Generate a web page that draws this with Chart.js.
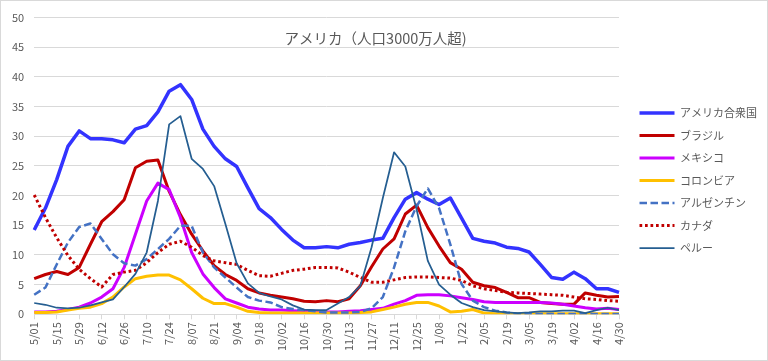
<!DOCTYPE html>
<html lang="ja">
<head>
<meta charset="utf-8">
<title>アメリカ（人口3000万人超)</title>
<script src="https://cdn.jsdelivr.net/npm/chart.js@4.4.1/dist/chart.umd.min.js"></script>
<style>
  html, body { margin: 0; padding: 0; background: #fff; }
  #wrap { width: 768px; height: 361px; box-sizing: border-box; border: 1px solid #d9d9d9; }
  canvas { display: block; }
</style>
</head>
<body>
<div id="wrap"><canvas id="chart" width="766" height="359"></canvas></div>
<script>
// Weekly dates (every other one is shown on the axis)
const weeks = [
  '5/01', '5/08', '5/15', '5/22', '5/29', '6/05', '6/12', '6/19', '6/26',
  '7/03', '7/10', '7/17', '7/24', '7/31', '8/07', '8/14', '8/21', '8/28',
  '9/04', '9/11', '9/18', '9/25', '10/02', '10/09', '10/16', '10/23', '10/30',
  '11/06', '11/13', '11/20', '11/27', '12/04', '12/11', '12/18', '12/25',
  '1/01', '1/08', '1/15', '1/22', '1/29', '2/05', '2/12', '2/19', '2/26',
  '3/05', '3/12', '3/19', '3/26', '4/02', '4/09', '4/16', '4/23', '4/30',
];

// Series values
const usa = [14.2, 17.9, 22.7, 28.3, 30.9, 29.6, 29.6, 29.4, 28.9, 31.2, 31.8, 34.1, 37.6, 38.7,
  36.2, 31.2, 28.3, 26.2, 24.9, 21.3, 17.8, 16.3, 14.3, 12.5, 11.2, 11.2, 11.4, 11.2, 11.8, 12.1,
  12.5, 12.8, 16.3, 19.4, 20.5, 19.4, 18.5, 19.6, 16.2, 12.8, 12.3, 12.0, 11.3, 11.1, 10.5, 8.4,
  6.2, 5.9, 7.1, 6.0, 4.3, 4.3, 3.7];
const brazil = [6.0, 6.7, 7.2, 6.7, 7.9, 11.8, 15.6, 17.3, 19.3, 24.7, 25.8, 26.0, 20.7, 16.8,
  13.5, 10.7, 8.2, 6.7, 5.7, 4.3, 3.6, 3.2, 2.9, 2.6, 2.2, 2.1, 2.3, 2.1, 2.6, 4.8, 8.0, 11.0,
  12.7, 16.9, 18.4, 14.6, 11.5, 8.7, 7.6, 5.4, 4.8, 4.5, 3.7, 2.8, 2.8, 2.0, 1.8, 1.7, 1.7, 3.6,
  3.2, 2.9, 3.0];
const mexico = [0.4, 0.4, 0.5, 0.8, 1.2, 1.9, 2.9, 4.3, 7.9, 13.5, 19.1, 22.1, 21.0, 16.3, 10.4,
  6.8, 4.5, 2.6, 1.9, 1.2, 0.9, 0.7, 0.7, 0.6, 0.5, 0.5, 0.4, 0.4, 0.5, 0.6, 0.8, 1.0, 1.7, 2.3,
  3.2, 3.3, 3.3, 3.1, 2.8, 2.5, 2.1, 2.0, 2.0, 2.0, 2.0, 2.0, 1.9, 1.7, 1.4, 1.1, 0.9, 1.0, 0.8];
const colombia = [0.3, 0.3, 0.4, 0.7, 1.0, 1.2, 1.8, 2.9, 4.6, 6.0, 6.4, 6.6, 6.6, 5.8, 4.3, 2.7,
  1.8, 1.8, 1.2, 0.5, 0.3, 0.2, 0.2, 0.2, 0.2, 0.2, 0.2, 0.2, 0.2, 0.3, 0.4, 0.8, 1.2, 1.7, 2.0,
  2.0, 1.4, 0.4, 0.5, 0.8, 0.2, 0.1, 0.1, 0.1, 0.1, 0.1, 0.1, 0.1, 0.1, 0.1, 0.1, 0.1, 0.1];
const argentina = [3.3, 4.5, 8.4, 12.1, 14.7, 15.3, 12.7, 10.1, 8.6, 8.2, 9.3, 11.0, 12.7, 14.9,
  14.9, 10.4, 7.9, 6.2, 4.5, 2.9, 2.3, 2.0, 1.2, 0.9, 0.7, 0.5, 0.3, 0.3, 0.3, 0.4, 1.0, 2.9, 7.9,
  14.0, 18.2, 21.2, 17.9, 11.8, 5.1, 2.3, 1.2, 0.6, 0.3, 0.1, 0.05, 0.05, 0.05, 0.05, 0.05, 0.05,
  0.05, 0.05, 0.05];
const canada = [20.1, 16.3, 12.9, 9.9, 7.6, 6.0, 4.6, 6.7, 7.1, 7.4, 8.7, 10.4, 11.8, 12.3, 11.3,
  9.9, 9.0, 8.7, 8.4, 7.4, 6.5, 6.4, 6.9, 7.4, 7.6, 7.9, 7.9, 7.8, 7.1, 6.2, 5.4, 5.4, 5.8, 6.2,
  6.3, 6.3, 6.2, 6.1, 5.7, 4.8, 4.3, 4.0, 3.7, 3.6, 3.5, 3.4, 3.3, 3.2, 2.9, 2.6, 2.5, 2.3, 2.2];
const peru = [1.9, 1.6, 1.1, 1.0, 1.1, 1.5, 2.0, 2.5, 4.6, 6.8, 10.4, 19.1, 32.0, 33.4, 26.2, 24.5,
  21.6, 15.2, 8.6, 5.2, 3.6, 3.0, 2.5, 1.5, 0.8, 0.7, 0.7, 1.8, 2.9, 4.8, 11.3, 19.6, 27.3, 24.9,
  17.7, 9.0, 5.0, 3.3, 1.9, 1.2, 0.7, 0.5, 0.3, 0.2, 0.3, 0.5, 0.5, 0.6, 0.6, 0.2, 0.7, 1.1, 0.7];

const yTicks = [0, 5, 10, 15, 20, 25, 30, 35, 40, 45, 50];

const seriesNames = ['アメリカ合衆国', 'ブラジル', 'メキシコ', 'コロンビア', 'アルゼンチン', 'カナダ', 'ペルー'];
const seriesData = [usa, brazil, mexico, colombia, argentina, canada, peru];
const seriesStyles = [
  { color: '#3333ff', width: 3.5, dash: [] },
  { color: '#c00000', width: 3, dash: [] },
  { color: '#cc00ff', width: 3, dash: [] },
  { color: '#ffc000', width: 3, dash: [] },
  { color: '#4472c4', width: 2.5, dash: [7.5, 3.5] },
  { color: '#c00000', width: 3, dash: [2.7, 2.8] },
  { color: '#255e91', width: 1.75, dash: [] },
];

const datasets = seriesNames.map((name, i) => ({
  label: name,
  data: seriesData[i],
  borderColor: seriesStyles[i].color,
  backgroundColor: seriesStyles[i].color,
  borderWidth: seriesStyles[i].width,
  borderDash: seriesStyles[i].dash,
  borderCapStyle: 'butt',
  borderJoinStyle: 'round',
  pointRadius: 0,
  pointHoverRadius: 0,
  tension: 0,
  fill: false,
  // later series sit on top, like the original
  order: seriesNames.length - 1 - i,
}));

// The point-style legend takes its style from the (invisible) points,
// so copy the line's dash and width back onto each legend item.
function legendLabels(chart) {
  const items = Chart.defaults.plugins.legend.labels.generateLabels(chart);
  items.forEach((item) => {
    const ds = chart.data.datasets[item.datasetIndex];
    item.lineDash = ds.borderDash;
    item.lineWidth = ds.borderWidth;
    item.strokeStyle = ds.borderColor;
    item.lineCap = 'butt';
  });
  return items;
}

const FONT = "'Noto Sans CJK JP', 'Noto Sans', sans-serif";
const TEXT_GRAY = '#595959';
const GRID_GRAY = '#d9d9d9';

new Chart(document.getElementById('chart'), {
  type: 'line',
  data: { labels: weeks, datasets },
  options: {
    responsive: false,
    animation: false,
    layout: { padding: { left: 1, top: 6, right: 0, bottom: 6 } },
    scales: {
      x: {
        offset: false,
        border: { display: true, color: GRID_GRAY },
        grid: {
          drawOnChartArea: false,
          drawTicks: true,
          tickLength: 5,
          color: (ctx) => (ctx.index % 2 === 0 ? GRID_GRAY : 'rgba(0,0,0,0)'),
        },
        ticks: {
          autoSkip: false,
          maxRotation: 90,
          minRotation: 90,
          padding: 3,
          color: TEXT_GRAY,
          font: { family: FONT, size: 11 },
          callback: (value, index) => (index % 2 === 0 ? weeks[index] : ''),
        },
      },
      y: {
        min: yTicks[0],
        max: yTicks[yTicks.length - 1],
        border: { display: false },
        grid: { color: GRID_GRAY, drawTicks: false },
        ticks: {
          stepSize: yTicks[1] - yTicks[0],
          padding: 10,
          color: TEXT_GRAY,
          font: { family: FONT, size: 11 },
        },
      },
      // empty spacer between the plot and the legend
      spacer: {
        type: 'linear',
        position: 'right',
        display: true,
        border: { display: false },
        grid: { display: false, drawTicks: false },
        ticks: { display: false },
        afterFit: (scale) => { scale.width = 9; },
      },
    },
    plugins: {
      title: {
        display: true,
        text: 'アメリカ（人口3000万人超)　 ',
        color: TEXT_GRAY,
        font: { family: FONT, size: 14.5, weight: 'normal' },
        padding: { top: 17.3, bottom: -29.7 },
      },
      legend: {
        position: 'right',
        reverse: true,
        maxWidth: 220,
        labels: {
          usePointStyle: true,
          pointStyle: 'line',
          pointStyleWidth: 35,
          boxHeight: 11,
          padding: 11.5,
          color: TEXT_GRAY,
          font: { family: FONT, size: 11 },
          generateLabels: legendLabels,
        },
      },
      tooltip: { enabled: false },
    },
  },
});
</script>
</body>
</html>
